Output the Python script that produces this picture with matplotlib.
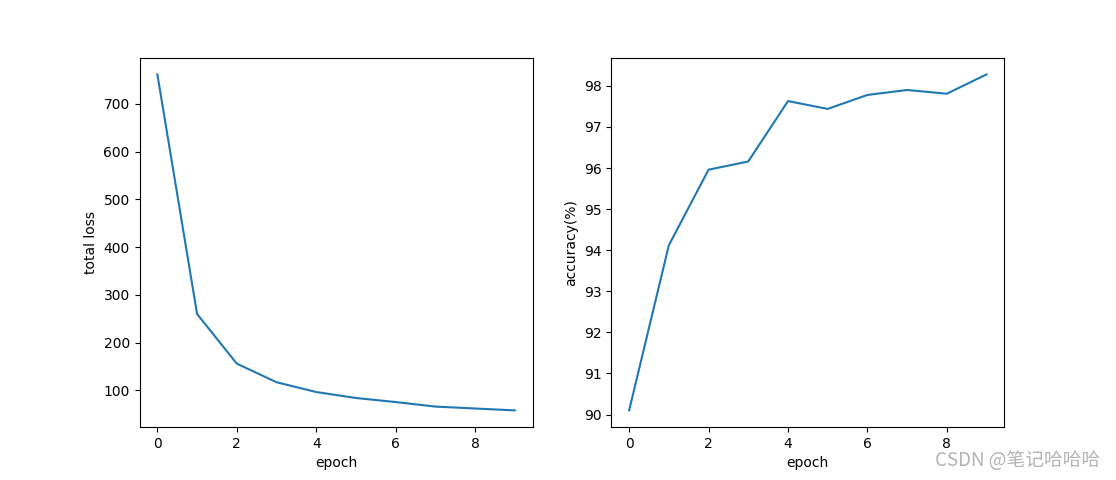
import matplotlib
matplotlib.use('Agg')
import matplotlib.pyplot as plt

epochs = list(range(10))
total_loss = [762, 260, 156, 117, 96.5, 84, 75.5, 66, 62, 58]
accuracy = [90.1, 94.12, 95.96, 96.16, 97.63, 97.44, 97.78, 97.9, 97.81, 98.28]

fig = plt.figure(figsize=(11.16, 4.8), dpi=100)

ax1 = fig.add_subplot(1, 2, 1)
ax1.plot(epochs, total_loss)
ax1.set_xlabel('epoch')
ax1.set_ylabel('total loss')

ax2 = fig.add_subplot(1, 2, 2)
ax2.plot(epochs, accuracy)
ax2.set_xlabel('epoch')
ax2.set_ylabel('accuracy(%)')

# watermark
fig.text(0.986, 0.04, 'CSDN @笔记哈哈哈', ha='right', va='center',
         fontsize=13.5, color='#b4b4b4',
         family=['Noto Sans CJK SC', 'DejaVu Sans'])

fig.savefig('out.png', dpi=100)
